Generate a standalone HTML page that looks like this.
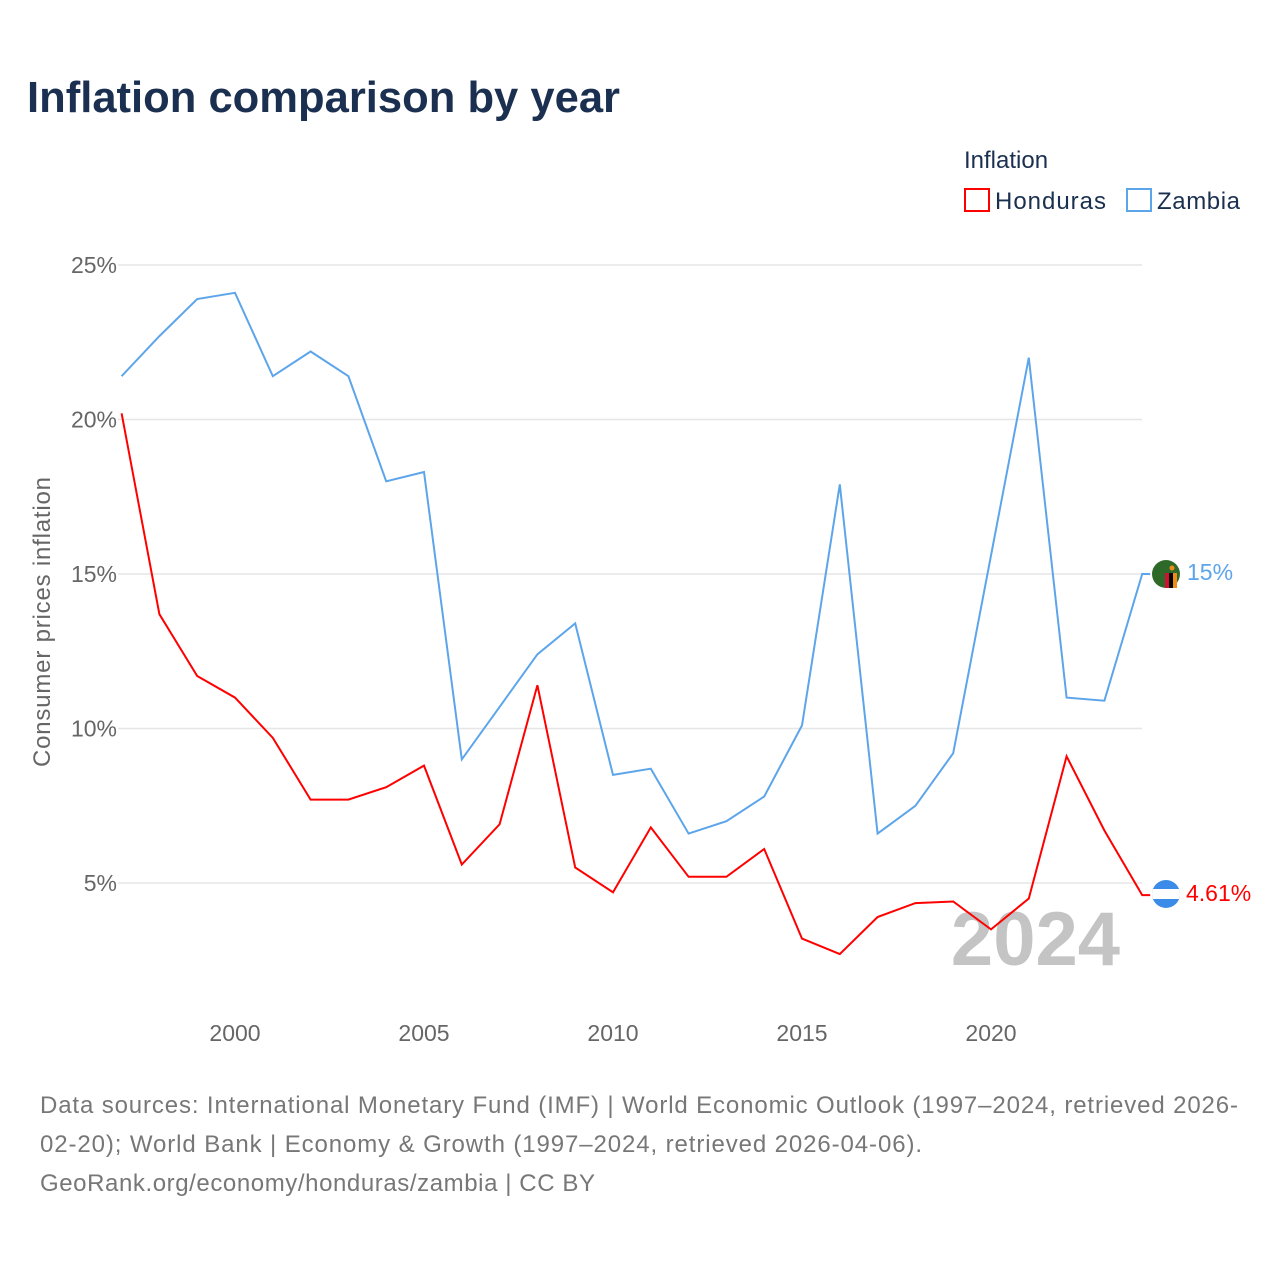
<!DOCTYPE html>
<html><head><meta charset="utf-8"><style>
body{margin:0;background:#fff;font-family:"Liberation Sans",sans-serif;}
svg text{font-family:"Liberation Sans",sans-serif;}
</style></head><body>
<svg width="1280" height="1280" viewBox="0 0 1280 1280">
<rect width="1280" height="1280" fill="#fff"/>
<text x="27" y="112" font-size="44" font-weight="bold" fill="#1b3050" textLength="593" lengthAdjust="spacingAndGlyphs">Inflation comparison by year</text>
<text x="964" y="168" font-size="24" fill="#1b3050">Inflation</text>
<g><rect x="965" y="189" width="24" height="22" fill="none" stroke="#f00" stroke-width="2"/><text x="995" y="209" font-size="24" fill="#1b3050" textLength="111">Honduras</text></g>
<g><rect x="1127" y="189" width="24" height="22" fill="none" stroke="#5da5ea" stroke-width="2"/><text x="1157" y="209" font-size="24" fill="#1b3050" textLength="83">Zambia</text></g>
<g id="grid"></g>
<text x="-622" y="50" transform="rotate(-90)" text-anchor="middle" font-size="24" fill="#666" textLength="290">Consumer prices inflation</text>
<text x="1120" y="965" text-anchor="end" font-size="76" font-weight="bold" fill="#c4c4c4">2024</text>
<g id="series"></g>
<g><circle cx="1166" cy="574" r="14" fill="#2d6a2a"/><rect x="1165" y="573" width="4" height="15" fill="#d21034"/><rect x="1169" y="573" width="4" height="15" fill="#000"/><rect x="1173" y="573" width="4" height="15" fill="#f08a1c"/><circle cx="1172" cy="568" r="2.5" fill="#f08a1c"/></g>
<g><clipPath id="hc"><circle cx="1166" cy="894" r="14"/></clipPath><g clip-path="url(#hc)"><rect x="1150" y="880" width="32" height="28" fill="#3b8be8"/><rect x="1150" y="889" width="32" height="10" fill="#fff"/></g></g>
<text x="1187" y="580" font-size="23" fill="#5da5ea">15%</text>
<text x="1186" y="901" font-size="23" fill="#f00">4.61%</text>
<text font-size="24" fill="#777"><tspan x="40" y="1113" textLength="1198">Data sources: International Monetary Fund (IMF) | World Economic Outlook (1997–2024, retrieved 2026-</tspan><tspan x="40" y="1152" textLength="882">02-20); World Bank | Economy &amp; Growth (1997–2024, retrieved 2026-04-06).</tspan><tspan x="40" y="1191" textLength="555">GeoRank.org/economy/honduras/zambia | CC BY</tspan></text>
</svg>
<script>
const years=[1997,1998,1999,2000,2001,2002,2003,2004,2005,2006,2007,2008,2009,2010,2011,2012,2013,2014,2015,2016,2017,2018,2019,2020,2021,2022,2023,2024];
const zambia=[21.4,22.7,23.9,24.1,21.4,22.2,21.4,18.0,18.3,9.0,10.7,12.4,13.4,8.5,8.7,6.6,7.0,7.8,10.1,17.9,6.6,7.5,9.2,15.6,22.0,11.0,10.9,15.0];
const honduras=[20.2,13.7,11.7,11.0,9.7,7.7,7.7,8.1,8.8,5.6,6.9,11.4,5.5,4.7,6.8,5.2,5.2,6.1,3.2,2.7,3.9,4.35,4.4,3.5,4.5,9.1,6.7,4.61];
const yTicks=[5,10,15,20,25];
const xTicks=[2000,2005,2010,2015,2020];
const NS='http://www.w3.org/2000/svg';
const x=v=>121.6+(v-1997)*37.8;
const y=v=>1037.5-v*30.9;
const grid=document.getElementById('grid');
yTicks.forEach(t=>{
 const l=document.createElementNS(NS,'line');
 l.setAttribute('x1',118);l.setAttribute('x2',1142);l.setAttribute('y1',y(t));l.setAttribute('y2',y(t));
 l.setAttribute('stroke','#e6e6e6');l.setAttribute('stroke-width',1.5);
 
 
 grid.appendChild(l);
 const tx=document.createElementNS(NS,'text');
 tx.setAttribute('x',117);tx.setAttribute('y',y(t)+8);tx.setAttribute('text-anchor','end');
 tx.setAttribute('font-size',23);tx.setAttribute('fill','#666');tx.textContent=t+'%';
 
 
 grid.appendChild(tx);
});
xTicks.forEach(t=>{
 const tx=document.createElementNS(NS,'text');
 tx.setAttribute('x',x(t));tx.setAttribute('y',1041);tx.setAttribute('text-anchor','middle');
 tx.setAttribute('font-size',23);tx.setAttribute('fill','#666');tx.textContent=t;
 
 
 grid.appendChild(tx);
});
const sg=document.getElementById('series');
function line(vals,color,name){
 let d=vals.map((v,i)=>(i?'L':'M')+x(years[i]).toFixed(1)+' '+y(v).toFixed(1)).join(' ');
 d+=' L'+(x(years[years.length-1])+8)+' '+y(vals[vals.length-1]).toFixed(1);
 const p=document.createElementNS(NS,'path');
 p.setAttribute('d',d);p.setAttribute('fill','none');p.setAttribute('stroke',color);p.setAttribute('stroke-width',2);
 
 
 sg.appendChild(p);
}
line(zambia,'#5da5ea','zambia-line');
line(honduras,'#f00','honduras-line');
</script>
</body></html>
